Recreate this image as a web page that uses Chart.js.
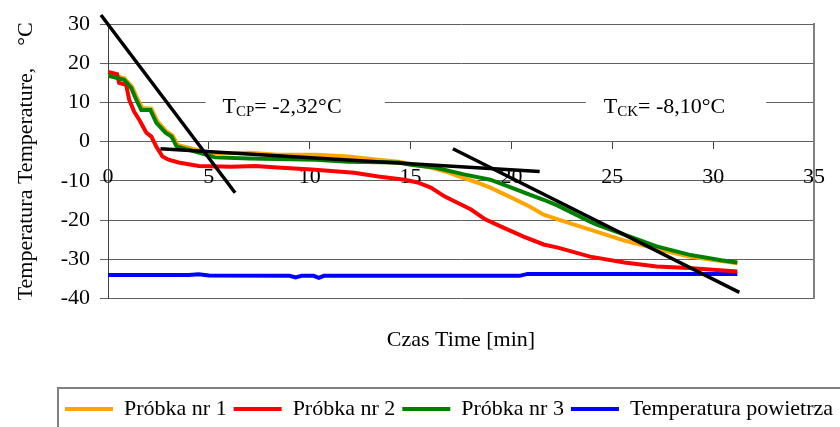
<!DOCTYPE html>
<html>
<head>
<meta charset="utf-8">
<script src="https://cdn.jsdelivr.net/npm/chart.js@4.4.1/dist/chart.umd.min.js"></script>
<style>
  html, body { margin: 0; padding: 0; background: #fff; }
</style>
</head>
<body>
<canvas id="chart" width="840" height="427"></canvas>
<script>
// series names + colours
const seriesNames = ['Próbka nr 1', 'Próbka nr 2', 'Próbka nr 3', 'Temperatura powietrza'];
const seriesColors = ['#FFA500', '#FF0000', '#008000', '#0000FF'];

// Próbka nr 1
const p1Time = [0, 0.8, 1.2, 1.45, 1.7, 2.15, 2.45, 2.9, 3.2, 3.45, 4.5, 5.3, 7.0, 8.4, 10.3, 11.9, 13.4, 14.4, 15.2, 16.0, 16.9, 17.6, 18.3, 18.95, 19.9, 20.9, 21.6, 22.3, 23.9, 25.6, 27.2, 28.8, 30.4, 31.2];
const p1Temp = [17.2, 16.2, 14.0, 11.0, 8.6, 8.4, 5.2, 2.6, 1.6, -0.8, -2.2, -3.0, -2.8, -3.3, -3.3, -3.8, -4.6, -5.1, -5.9, -6.6, -7.9, -9.2, -10.4, -11.7, -14.0, -16.5, -18.6, -19.8, -22.4, -25.2, -27.3, -29.3, -30.4, -31.0];

// Próbka nr 2
const p2Time = [0, 0.45, 0.55, 0.9, 1.05, 1.3, 1.55, 1.9, 2.15, 2.4, 2.7, 3.0, 3.5, 4.5, 6.1, 7.3, 8.4, 10.1, 12.2, 13.4, 14.7, 15.35, 16.0, 16.7, 17.3, 18.0, 18.7, 19.6, 20.6, 21.6, 22.3, 23.9, 25.6, 27.2, 28.8, 31.2];
const p2Temp = [17.8, 17.2, 15.0, 14.5, 10.7, 7.6, 5.6, 2.3, 1.3, -1.3, -3.8, -4.6, -5.3, -6.2, -6.4, -6.2, -6.6, -7.1, -7.9, -8.9, -9.7, -10.4, -11.7, -14.0, -15.5, -17.3, -19.8, -21.9, -24.2, -26.2, -27.0, -29.3, -30.8, -31.8, -32.2, -33.1];

// Próbka nr 3
const p3Time = [0, 0.8, 1.15, 1.4, 1.65, 2.1, 2.4, 2.85, 3.15, 3.4, 4.5, 5.3, 7.0, 10.3, 11.9, 14.4, 15.0, 16.2, 17.7, 18.95, 19.9, 20.9, 21.6, 22.3, 23.9, 24.2, 25.6, 27.2, 28.8, 30.4, 31.2];
const p3Temp = [16.8, 15.8, 13.7, 10.7, 8.1, 8.1, 4.8, 2.3, 1.3, -1.2, -2.8, -4.0, -4.3, -4.6, -5.1, -5.3, -5.9, -6.6, -8.4, -9.7, -11.5, -13.5, -14.8, -16.3, -20.4, -21.1, -23.7, -26.7, -28.8, -30.2, -30.8];

// air temperature
const airTime = [0, 4.0, 4.5, 5.0, 9.0, 9.3, 9.6, 10.2, 10.45, 10.7, 20.4, 20.8, 31.2];
const airTemp = [-34.0, -34.0, -33.8, -34.1, -34.2, -34.6, -34.2, -34.2, -34.7, -34.2, -34.2, -33.7, -33.7];

// black tangent lines
const fit1Time = [-0.35, 6.3];
const fit1Temp = [32.3, -13.0];
const fit2Time = [2.6, 21.4];
const fit2Temp = [-1.8, -7.6];
const fit3Time = [17.1, 31.3];
const fit3Temp = [-1.8, -38.4];

const xTicks = [0, 5, 10, 15, 20, 25, 30, 35];
const yTicks = [-40, -30, -20, -10, 0, 10, 20, 30];

const tcpText = ['T', 'CP', '= -2,32°C'];
const tckText = ['T', 'CK', '= -8,10°C'];

const FONT = "'Liberation Serif', 'Times New Roman', serif";
Chart.defaults.font.family = FONT;
Chart.defaults.font.size = 22;
Chart.defaults.color = '#000';

const pts = (xs, ys) => xs.map((x, i) => ({ x: x, y: ys[i] }));

function curve(i, xs, ys, order) {
  return {
    label: seriesNames[i],
    data: pts(xs, ys),
    borderColor: seriesColors[i],
    backgroundColor: seriesColors[i],
    borderWidth: 4,
    pointRadius: 0,
    tension: 0,
    order: order
  };
}

function fitLine(xs, ys) {
  return {
    label: 'fit',
    data: pts(xs, ys),
    borderColor: '#000',
    backgroundColor: '#000',
    borderWidth: 3.5,
    pointRadius: 0,
    order: 0,
    clip: false
  };
}

// T_CP / T_CK labels sitting on the 10 gridline, legend frame
const labelPlugin = {
  id: 'labels',
  afterLayout(chart) {
    // nudge legend a little lower, like the original
    chart.legend.top += 3;
    chart.legend.bottom += 3;
  },
  beforeDatasetsDraw(chart) {
    const ctx = chart.ctx;
    const xs = chart.scales.x, ys = chart.scales.y;
    const yLine = ys.getPixelForValue(10);
    const spots = [
      { from: 4.84, to: 13.72, start: 5.68, parts: tcpText },
      { from: 23.69, to: 32.63, start: 24.58, parts: tckText }
    ];
    ctx.save();
    spots.forEach(s => {
      const x0 = xs.getPixelForValue(s.from), x1 = xs.getPixelForValue(s.to);
      ctx.fillStyle = '#fff';
      ctx.fillRect(x0, yLine - 3, x1 - x0, 6);
      let x = xs.getPixelForValue(s.start);
      const base = yLine + 11;
      ctx.fillStyle = '#000';
      ctx.textAlign = 'left';
      ctx.textBaseline = 'alphabetic';
      ctx.font = '22px ' + FONT;
      ctx.fillText(s.parts[0], x, base);
      x += ctx.measureText(s.parts[0]).width;
      ctx.font = '15px ' + FONT;
      ctx.fillText(s.parts[1], x, base + 3);
      x += ctx.measureText(s.parts[1]).width;
      ctx.font = '22px ' + FONT;
      ctx.fillText(s.parts[2], x, base);
    });
    ctx.restore();
  },
  afterDraw(chart) {
    const lg = chart.legend;
    if (!lg || !lg.legendHitBoxes.length) return;
    const hb = lg.legendHitBoxes[0];
    const ctx = chart.ctx;
    ctx.save();
    ctx.strokeStyle = '#808080';
    ctx.lineWidth = 2;
    ctx.strokeRect(hb.left - 7, lg.top - 3, 900, 100);
    ctx.restore();
  }
};

new Chart(document.getElementById('chart'), {
  type: 'line',
  data: {
    datasets: [
      curve(0, p1Time, p1Temp, 3),
      curve(1, p2Time, p2Temp, 2),
      curve(2, p3Time, p3Temp, 1),
      curve(3, airTime, airTemp, 4),
      fitLine(fit1Time, fit1Temp),
      fitLine(fit2Time, fit2Temp),
      fitLine(fit3Time, fit3Temp)
    ]
  },
  options: {
    responsive: false,
    animation: false,
    layout: { padding: { top: 24, right: 0, left: 0, bottom: 0 } },
    plugins: {
      legend: {
        position: 'bottom',
        align: 'end',
        labels: {
          usePointStyle: true,
          pointStyle: 'line',
          pointStyleWidth: 48,
          padding: 7,
          color: '#000',
          font: { size: 22 },
          filter: item => item.text !== 'fit',
          sort: (a, b) => a.datasetIndex - b.datasetIndex
        }
      },
      title: {
        display: true,
        text: 'Czas Time [min]',
        position: 'bottom',
        fullSize: false,
        color: '#000',
        font: { size: 22, weight: 'normal' },
        padding: { top: 28, bottom: 35 },
        weight: 500
      },
      tooltip: { enabled: false }
    },
    scales: {
      x: {
        type: 'linear',
        position: { y: 0 },
        min: 0,
        max: 35,
        afterBuildTicks: s => { s.ticks = xTicks.map(v => ({ value: v })); },
        afterFit: s => { s.height = 0; },
        border: { display: false },
        grid: { drawOnChartArea: false, color: '#404040', tickLength: 7 },
        ticks: { color: '#000', padding: 15, maxRotation: 0, autoSkip: false }
      },
      y: {
        min: -40,
        max: 30,
        afterBuildTicks: s => { s.ticks = yTicks.map(v => ({ value: v })); },
        afterFit: s => { s.width = 108; },
        border: { color: '#404040' },
        grid: { color: '#606060', tickLength: 8 },
        ticks: { color: '#000', padding: 10 },
        title: {
          display: true,
          text: 'Temperatura Temperature,    °C',
          color: '#000',
          padding: { top: 13, bottom: 0 }
        }
      },
      yR: {
        position: 'right',
        min: 0,
        max: 1,
        afterFit: s => { s.width = 22; },
        border: { display: true, color: '#808080', width: 2 },
        grid: { display: false },
        ticks: { display: false }
      }
    }
  },
  plugins: [labelPlugin]
});
</script>
</body>
</html>
